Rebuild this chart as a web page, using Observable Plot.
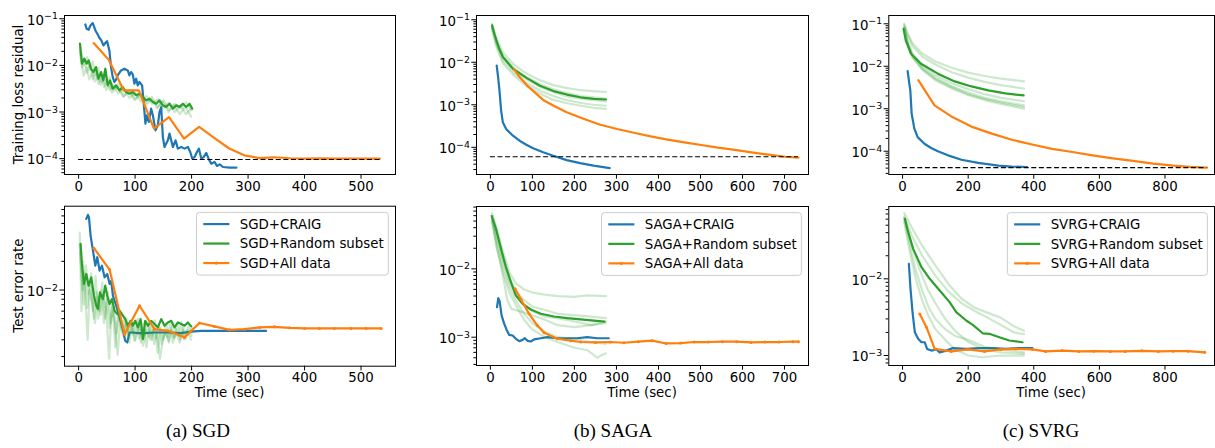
<!DOCTYPE html>
<html><head><meta charset="utf-8">
<script src="https://cdn.jsdelivr.net/npm/d3@7"></script>
<script src="https://cdn.jsdelivr.net/npm/@observablehq/plot@0.6"></script>
<style>
html,body{margin:0;padding:0;background:#fff;overflow:hidden;}
#root{position:relative;width:1215px;height:448px;overflow:hidden;background:#fff;}
</style></head><body><div id="root"></div>
<script>
// ---------------- DATA ----------------
// tick labels
const sgdXTicks = [0, 100, 200, 300, 400, 500];
const sagaXTicks = [0, 100, 200, 300, 400, 500, 600, 700];
const svrgXTicks = [0, 200, 400, 600, 800];
const trainYTicks = [1e-1, 1e-2, 1e-3, 1e-4];
const sgdTestYTicks = [1e-2];
const testYTicks = [1e-2, 1e-3];
const sgdLabels = ["SGD+CRAIG", "SGD+Random subset", "SGD+All data"];
const sagaLabels = ["SAGA+CRAIG", "SAGA+Random subset", "SAGA+All data"];
const svrgLabels = ["SVRG+CRAIG", "SVRG+Random subset", "SVRG+All data"];
const rowLabels = ["Training loss residual", "Test error rate"];
const xLabel = "Time (sec)";
const captions = ["(a) SGD", "(b) SAGA", "(c) SVRG"];

// ---- SGD, training loss residual ----
const sgdTrainCraig = [[11.8,0.0756],[14.2,0.0611],[17.8,0.0581],[20.1,0.0685],[22.5,0.0756],[24.9,0.0807],[27.2,0.0685],[29.6,0.0562],[33.1,0.0477],[36.7,0.0392],[40.2,0.0343],[43.8,0.0268],[47.3,0.0301],[50.3,0.0332],[54.4,0.021],[57.4,0.0092],[60.4,0.00562],[63.3,0.0044],[66.3,0.00493],[69.2,0.00611],[75.1,0.00781],[81.1,0.00848],[87,0.00781],[89.9,0.00611],[92.9,0.0072],[95.9,0.0064],[98.8,0.00405],[101.8,0.00518],[104.7,0.00373],[107.7,0.0044],[112.4,0.00373],[114.8,0.00178],[118.3,0.000562],[120.7,0.000849],[124.3,0.000611],[128.4,0.00118],[131.4,0.000849],[136.1,0.000405],[140.2,0.000518],[143.2,0.001],[146.2,0.00128],[149.1,0.000291],[152.1,0.000178],[158,0.000247],[160.9,0.000344],[163.9,0.000247],[166.9,0.000178],[171.6,0.000247],[175.7,0.000164],[181.7,0.000178],[187.6,0.000164],[193.5,0.000178],[197.6,0.000139],[201.2,0.0001],[205.3,0.000108],[209.5,0.000139],[213,0.000164],[217.2,0.0001],[221.3,0.000108],[226,0.000133],[230.8,0.0000953],[234.9,0.0000781],[240.8,0.0000848],[245,0.0000697],[249.7,0.0000755],[255.6,0.0000662],[267.5,0.000064],[279.3,0.000064]];
const sgdTrainRandom = [[2.4,0.0291],[5.9,0.0109],[10.1,0.0139],[14.2,0.0109],[17.8,0.0128],[21.9,0.00848],[26,0.0072],[30.8,0.0092],[34.9,0.00518],[39.6,0.0072],[43.8,0.00477],[47.3,0.00848],[51.5,0.00373],[55.6,0.00477],[60.4,0.00316],[66.3,0.00373],[72.2,0.00291],[78.1,0.00344],[84,0.00268],[89.9,0.00247],[95.9,0.00268],[101.8,0.00228],[107.7,0.00247],[113.6,0.0021],[119.5,0.00178],[125.4,0.00193],[131.4,0.00164],[137.3,0.00151],[143.2,0.00178],[149.1,0.00139],[155,0.00128],[160.9,0.00151],[166.9,0.00118],[172.8,0.00139],[178.7,0.00128],[184.6,0.00151],[190.5,0.00128],[196.4,0.00151],[201.2,0.00118]];
const sgdTrainRuns = [
  [[2,0.02],[6,0.009],[10,0.014],[15,0.007],[20,0.011],[25,0.005],[30,0.008],[35,0.004],[40,0.006],[45,0.0035],[50,0.005],[55,0.003],[60,0.004],[70,0.0025],[80,0.0032],[90,0.002],[100,0.0026],[110,0.0017],[120,0.0022],[130,0.0015],[140,0.0019],[150,0.0012],[160,0.0016],[170,0.001],[180,0.0014],[190,0.0009],[200,0.0012]],
  [[2,0.03],[6,0.016],[10,0.01],[15,0.015],[20,0.008],[25,0.012],[30,0.006],[35,0.009],[40,0.0045],[45,0.007],[50,0.004],[55,0.0055],[60,0.003],[70,0.004],[80,0.0022],[90,0.003],[100,0.0019],[110,0.0025],[120,0.0016],[130,0.0021],[140,0.0013],[150,0.0018],[160,0.0011],[170,0.0015],[180,0.0012],[190,0.0016],[200,0.0011]],
  [[2,0.025],[5,0.012],[9,0.006],[14,0.009],[19,0.005],[24,0.007],[29,0.0045],[34,0.0065],[39,0.0038],[44,0.005],[49,0.003],[54,0.0042],[59,0.0026],[69,0.0034],[79,0.0021],[89,0.0028],[99,0.0018],[109,0.0023],[119,0.0014],[129,0.0019],[139,0.0012],[149,0.0017],[159,0.001],[169,0.0014],[179,0.0009],[189,0.0013],[199,0.0008]]
];
const sgdTrainAll = [[26.6,0.0301],[53.3,0.0132],[80,0.0029],[106.6,0.0029],[133.3,0.00044],[160,0.00078],[186.6,0.00027],[213.3,0.00048],[240,0.00028],[266.6,0.000165],[293.3,0.000118],[320,0.000103],[346.6,0.000107],[373.3,0.000102],[400,0.0001],[426.6,0.000101],[453.3,0.0001],[480,0.0001],[506.6,0.0001],[533.3,0.0001]];
const sgdTrainOpt = {value: 9.6e-5, from: 0, to: 535};

// ---- SAGA, training loss residual ----
const sagaTrainCraig = [[15,0.0084],[18.4,0.00446],[21.6,0.0022],[25.6,0.00073],[29.6,0.00039],[37.6,0.00027],[53.6,0.000187],[69.6,0.000143],[85.6,0.000115],[101.6,0.0000948],[125.6,0.0000765],[149.6,0.000063],[181.6,0.00005],[213.6,0.0000425],[245.6,0.000037],[284,0.0000325]];
const sagaTrainRandom = [[4,0.0735],[10,0.045],[20,0.022],[30,0.0132],[54,0.007],[86,0.0043],[118,0.0028],[150,0.0021],[182,0.00174],[214,0.0015],[246,0.00138],[275,0.00133]];
const sagaTrainRuns = [
  [[4,0.08],[15,0.035],[30,0.017],[55,0.009],[85,0.0055],[120,0.0037],[150,0.0029],[180,0.0025],[215,0.0022],[245,0.0021],[275,0.002]],
  [[4,0.075],[15,0.03],[30,0.014],[55,0.0075],[85,0.0045],[120,0.003],[150,0.0023],[180,0.0019],[215,0.0016],[245,0.0015],[275,0.0014]],
  [[4,0.065],[15,0.025],[30,0.011],[55,0.0058],[85,0.0033],[120,0.0021],[150,0.0016],[180,0.0013],[215,0.0011],[245,0.001],[275,0.00095]],
  [[4,0.06],[15,0.022],[30,0.0095],[55,0.005],[85,0.0028],[120,0.0018],[150,0.0013],[180,0.0011],[215,0.00095],[245,0.00085],[275,0.0008]],
  [[4,0.07],[15,0.028],[30,0.013],[55,0.0068],[85,0.004],[120,0.0026],[150,0.002],[180,0.0016],[215,0.0014],[245,0.0013],[275,0.0012]]
];
const sagaTrainAll = [[56,0.007],[69.6,0.0045],[89.6,0.0027],[125.6,0.0013],[149.6,0.00096],[181.6,0.00067],[221.6,0.00047],[261.6,0.00034],[301.6,0.00027],[341.6,0.00022],[381.6,0.00018],[421.6,0.000152],[461.6,0.000131],[501.6,0.000113],[541.6,0.000098],[581.6,0.000087],[621.6,0.000076],[661.6,0.000067],[701.6,0.00006],[733,0.000057]];
const sagaTrainOpt = {value: 6.0e-5, from: 0, to: 733};

// ---- SVRG, training loss residual ----
const svrgTrainCraig = [[15.4,0.0077],[19.5,0.0045],[23.6,0.0027],[27.7,0.00076],[35.9,0.00034],[46,0.000215],[66.7,0.00015],[87,0.000119],[107.7,0.0001],[138.5,0.00008],[179.5,0.000063],[230.8,0.000053],[292,0.000046],[333,0.0000435],[379.5,0.0000425]];
const svrgTrainRandom = [[3,0.076],[10,0.04],[25.6,0.0197],[56,0.0115],[107.7,0.0067],[159,0.0044],[210,0.00335],[261.5,0.0027],[313,0.0023],[369,0.00206]];
const svrgTrainRuns = [
  [[5,0.1],[15,0.06],[30,0.035],[60,0.02],[100,0.013],[150,0.0092],[200,0.0071],[250,0.0059],[300,0.0051],[370,0.0044]],
  [[5,0.095],[15,0.055],[30,0.03],[60,0.017],[100,0.011],[150,0.0072],[200,0.0054],[250,0.0043],[300,0.0036],[370,0.003]],
  [[5,0.085],[15,0.04],[30,0.02],[60,0.0105],[100,0.0062],[150,0.004],[200,0.0029],[250,0.0022],[300,0.0018],[370,0.0015]],
  [[5,0.08],[15,0.036],[30,0.018],[60,0.0092],[100,0.0054],[150,0.0034],[200,0.0024],[250,0.0018],[300,0.0015],[370,0.0012]],
  [[5,0.075],[15,0.033],[30,0.016],[60,0.0082],[100,0.0047],[150,0.003],[200,0.0021],[250,0.0016],[300,0.0013],[370,0.001]],
  [[5,0.078],[15,0.035],[30,0.017],[60,0.0088],[100,0.005],[150,0.0032],[200,0.0022],[250,0.0017],[300,0.0014],[370,0.0011]]
];
const svrgTrainAll = [[48,0.0047],[97.4,0.0012],[148.7,0.00066],[210,0.00038],[272,0.00026],[333,0.000186],[395,0.000144],[456,0.000114],[518,0.000096],[579.5,0.00008],[641,0.000068],[702.6,0.000059],[764,0.000051],[825.6,0.0000457],[877,0.0000428],[928,0.0000410]];
const svrgTrainOpt = {value: 4.1e-5, from: 0, to: 928};

// ---- SGD, test error rate ----
const sgdTestCraig = [[13.6,0.0558],[16.5,0.0615],[18.3,0.0582],[21.2,0.0373],[25.4,0.0259],[29.5,0.018],[33,0.0221],[37.1,0.016],[41.3,0.018],[46,0.0136],[50.7,0.0147],[54.8,0.0116],[57.8,0.0125],[60.7,0.0087],[66.6,0.00684],[72.5,0.00515],[78.4,0.00388],[82.5,0.00293],[86.1,0.00281],[90.2,0.00358],[96.1,0.00358],[105,0.00352],[116.7,0.00352],[134.4,0.00358],[158,0.00358],[181.6,0.00352],[199.3,0.00365],[217,0.00373],[246.5,0.00373],[276,0.00373],[305.4,0.00373],[332,0.00373]];
const sgdTestRandom = [[3.5,0.0305],[5.9,0.0188],[9.4,0.0116],[13.6,0.0147],[17.7,0.0111],[22.4,0.0136],[27.1,0.0087],[31.3,0.00684],[34.2,0.00631],[37.7,0.00944],[43,0.00804],[47.2,0.0111],[50.7,0.0087],[54.8,0.00713],[59,0.00804],[63.7,0.00606],[68.4,0.00559],[72.5,0.00606],[78.4,0.00537],[82.5,0.00495],[87.3,0.00421],[92,0.00475],[96.1,0.00421],[100.2,0.00475],[105,0.00405],[109.7,0.00495],[113.8,0.00305],[117.9,0.00475],[122.6,0.00421],[128.5,0.00475],[134.4,0.00439],[140.3,0.00405],[146.2,0.00495],[152.1,0.00421],[158,0.00457],[163.9,0.00475],[169.8,0.00405],[175.7,0.00457],[181.6,0.00439],[187.5,0.00421],[193.4,0.00457],[199.3,0.00415]];
const sgdTestRuns = [
  [[2,0.04],[5,0.006],[8,0.02],[12,0.008],[16,0.003],[20,0.012],[25,0.006],[30,0.014],[35,0.005],[40,0.01],[45,0.0045],[50,0.008],[55,0.004],[60,0.007],[65,0.0025],[70,0.006],[75,0.004],[80,0.0032],[85,0.005],[90,0.0028],[95,0.0045],[100,0.003],[105,0.005],[110,0.0028],[115,0.0045],[120,0.0025],[125,0.0042],[130,0.003],[135,0.0048],[140,0.0022],[145,0.004],[150,0.003],[155,0.0045],[160,0.0028],[165,0.0042],[170,0.0032],[175,0.0045],[180,0.003],[185,0.004],[190,0.0035],[195,0.0042],[200,0.0033]],
  [[2,0.03],[5,0.015],[9,0.007],[13,0.018],[17,0.009],[22,0.015],[27,0.005],[32,0.0095],[37,0.006],[42,0.012],[47,0.005],[52,0.0095],[57,0.0045],[62,0.0065],[67,0.0035],[72,0.006],[77,0.0038],[82,0.0052],[87,0.0033],[92,0.0046],[97,0.0034],[102,0.0048],[107,0.0031],[112,0.004],[117,0.0033],[122,0.0046],[127,0.003],[132,0.0038],[137,0.0031],[142,0.0043],[147,0.0027],[152,0.0037],[157,0.0032],[162,0.0044],[167,0.0028],[172,0.0039],[177,0.0033],[182,0.0046],[187,0.003],[192,0.0038],[197,0.0036],[201,0.004]],
  [[3,0.025],[7,0.01],[11,0.015],[15,0.0065],[19,0.01],[24,0.0075],[29,0.0045],[34,0.0085],[39,0.0055],[44,0.009],[49,0.006],[54,0.0019],[59,0.0075],[64,0.0045],[69,0.0021],[74,0.005],[79,0.0035],[84,0.0046],[89,0.0032],[94,0.0043],[99,0.0029],[104,0.0036],[109,0.0042],[114,0.0026],[119,0.0038],[124,0.0032],[129,0.0043],[134,0.0027],[139,0.0036],[144,0.0019],[149,0.003],[154,0.0036],[159,0.0029],[164,0.0038],[169,0.0031],[174,0.0035],[179,0.0028],[184,0.0037],[189,0.0031],[194,0.0036],[199,0.003]]
];
const sgdTestAll = [[27.1,0.0275],[54.8,0.0164],[81.4,0.00344],[107.9,0.00684],[134.4,0.00388],[158,0.00373],[187.5,0.00318],[214,0.0045],[240.5,0.00415],[267,0.00382],[293.6,0.00388],[320.2,0.00405],[346.7,0.00411],[373.2,0.00401],[399.8,0.00395],[426.3,0.00395],[452.8,0.00395],[482.3,0.00395],[508.8,0.00395],[535.4,0.00395]];

// ---- SAGA, test error rate ----
const sagaTestCraig = [[15.8,0.00275],[18.9,0.00372],[22.1,0.00333],[26.8,0.00207],[33.1,0.00157],[39.5,0.00125],[45,0.00108],[52.9,0.00106],[60.8,0.000946],[68.7,0.000874],[76.6,0.000914],[82.1,0.000966],[88.4,0.000885],[96.3,0.000865],[104.2,0.000928],[120,0.000966],[135.8,0.001],[159.4,0.000966],[183.1,0.000966],[206.8,0.000966],[230.5,0.001],[254.1,0.000966],[281.8,0.000966]];
const sagaTestRandom = [[3.2,0.059],[13.4,0.0383],[25.3,0.0196],[37.1,0.0106],[48.9,0.00638],[60.8,0.00407],[76.6,0.00307],[96.3,0.00254],[120,0.0022],[151.5,0.00201],[183.1,0.0019],[214.7,0.00182],[246.2,0.00175],[271.5,0.00169]];
const sagaTestRuns = [
  [[4,0.065],[15,0.04],[30,0.018],[45,0.009],[60,0.0062],[80,0.005],[100,0.0045],[130,0.0042],[160,0.004],[200,0.0039],[230,0.0041],[275,0.004]],
  [[4,0.06],[15,0.035],[30,0.015],[45,0.0075],[60,0.0048],[80,0.0035],[100,0.0028],[130,0.0025],[160,0.0022],[200,0.0021],[240,0.002],[275,0.0019]],
  [[4,0.055],[15,0.03],[30,0.013],[45,0.0065],[60,0.0042],[80,0.003],[100,0.0024],[130,0.002],[160,0.0019],[200,0.0017],[240,0.0015],[275,0.0016]],
  [[4,0.05],[15,0.022],[30,0.008],[40,0.0035],[50,0.0026],[70,0.0024],[100,0.0021],[130,0.0018],[160,0.0015],[200,0.0014],[240,0.0015],[275,0.0017]],
  [[4,0.055],[15,0.025],[30,0.011],[45,0.0055],[60,0.0035],[80,0.0022],[100,0.0016],[130,0.0012],[160,0.001],[200,0.00095],[240,0.00085],[275,0.0008]],
  [[4,0.05],[15,0.02],[30,0.009],[45,0.0045],[60,0.003],[80,0.0018],[100,0.0013],[130,0.001],[160,0.00085],[200,0.0007],[230,0.00065],[255,0.0005],[265,0.00055],[275,0.00058]]
];
const sagaTestAll = [[59,0.0051],[72.6,0.0036],[92,0.0022],[112,0.00148],[128,0.00116],[159,0.00095],[191,0.00089],[215,0.00085],[250,0.00084],[285,0.00085],[318,0.00083],[352,0.00086],[385,0.00089],[418,0.00081],[452,0.00082],[485,0.00085],[519,0.00085],[552,0.00086],[586,0.00086],[620,0.00084],[653,0.00085],[687,0.00085],[720,0.00086],[733,0.00086]];

// ---- SVRG, test error rate ----
const svrgTestCraig = [[19.2,0.0157],[24.2,0.00741],[30.3,0.00367],[37.4,0.00201],[47.5,0.00165],[57.6,0.00149],[67.7,0.00149],[74.7,0.00122],[87.9,0.00116],[103,0.0012],[113.1,0.0011],[133.3,0.00116],[153.5,0.00125],[193.9,0.00122],[234.3,0.00125],[274.7,0.00125],[315.2,0.00122],[355.6,0.00125],[396,0.00125]];
const svrgTestRandom = [[7.1,0.0607],[17.2,0.0406],[32.3,0.0246],[57.6,0.0142],[82.8,0.01],[113.1,0.00705],[143.4,0.00497],[163.6,0.00367],[194,0.00286],[214.1,0.00251],[244.4,0.00195],[264.6,0.00192],[295,0.00173],[325.3,0.00157],[365.7,0.00149]];
const svrgTestRuns = [
  [[5,0.072],[30,0.045],[60,0.027],[100,0.015],[140,0.0085],[180,0.0055],[220,0.0042],[260,0.0036],[300,0.0031],[340,0.0024],[370,0.0021]],
  [[5,0.065],[30,0.035],[60,0.02],[100,0.011],[140,0.0068],[180,0.0048],[220,0.0038],[260,0.0031],[300,0.0025],[340,0.002],[370,0.0019]],
  [[5,0.06],[20,0.03],[40,0.013],[60,0.007],[80,0.0042],[100,0.003],[130,0.0022],[160,0.0018],[200,0.0016],[250,0.0013],[300,0.0012],[370,0.0011]],
  [[5,0.055],[20,0.025],[40,0.01],[60,0.0052],[80,0.0032],[100,0.0022],[130,0.0016],[160,0.0012],[200,0.001],[240,0.00095],[300,0.001],[370,0.001]],
  [[5,0.062],[25,0.03],[50,0.014],[75,0.0075],[100,0.0048],[130,0.003],[160,0.0021],[200,0.0015],[250,0.0012],[300,0.0011],[370,0.00105]]
];
const svrgTestAll = [[52.5,0.00349],[72.7,0.00234],[98,0.00122],[148.5,0.00113],[199,0.0012],[249.5,0.00113],[300,0.0012],[345.5,0.00122],[396,0.0012],[436.4,0.00113],[486.9,0.00116],[537.4,0.00113],[582.8,0.00114],[633.3,0.00113],[678.8,0.00113],[729.3,0.00115],[779.8,0.00113],[825.3,0.00114],[870.7,0.00114],[921.2,0.0011]];

// ---------------- DRAWING ----------------
const FS = 13.33;
const COL = {craig: "#1f77b4", random: "#2ca02c", all: "#ff7f0e"};
const root = document.getElementById("root");
const xy = {x: d => d[0], y: d => d[1]};

function makePanel(p) {
  const [fl, ft, fr, fb] = p.frame;
  const yMinor = [];
  for (let e = -6; e <= 0; e++) for (let k = 2; k <= 9; k++) {
    const v = k * Math.pow(10, e);
    if (v > p.yDomain[0] && v < p.yDomain[1]) yMinor.push(v);
  }
  const marks = [];
  marks.push(Plot.line(p.craig, {...xy, stroke: COL.craig, strokeWidth: 2.2}));
  for (const run of p.runs) marks.push(Plot.line(run, {...xy, stroke: COL.random, strokeOpacity: 0.24, strokeWidth: 2.2}));
  marks.push(Plot.line(p.random, {...xy, stroke: COL.random, strokeWidth: 2.2}));
  marks.push(Plot.line(p.all, {...xy, stroke: COL.all, strokeWidth: 2.2}));
  if (p.dots) marks.push(Plot.dot(p.all, {...xy, r: 1.5, fill: COL.all}));
  if (p.opt) marks.push(Plot.ruleY([p.opt.value], {x1: p.opt.from, x2: p.opt.to, stroke: "black", strokeWidth: 1.1, strokeDasharray: "5,2.6"}));
  marks.push(Plot.frame({stroke: "black", strokeWidth: 1}));
  marks.push(Plot.axisX({ticks: p.xTicks, tickSize: 4.67, tickPadding: 2, tickFormat: d => String(d), label: null}));
  marks.push(Plot.axisY({ticks: yMinor, tickSize: 2.67, tickFormat: () => "", label: null}));
  marks.push(Plot.axisY({ticks: p.yTicks, tickSize: 4.67, tickPadding: 2, tickFormat: d => "10^" + Math.round(Math.log10(d)), label: null}));

  const svg = Plot.plot({
    width: p.width, height: p.height,
    marginLeft: fl - p.left, marginTop: ft - p.top,
    marginRight: p.left + p.width - fr, marginBottom: p.top + p.height - fb,
    x: {domain: p.xDomain},
    y: {type: "log", domain: p.yDomain},
    style: {fontFamily: "DejaVu Sans", fontSize: FS + "px", color: "black", background: "transparent", overflow: "visible"},
    marks
  });
  svg.style.position = "absolute";
  svg.style.left = p.left + "px";
  svg.style.top = p.top + "px";
  root.appendChild(svg);
  const S = d3.select(svg);
  // mathtext-like superscripts on log tick labels
  S.selectAll("text").each(function () {
    const s = this.textContent;
    if (!s || s.indexOf("^") < 0) return;
    const [b, e] = s.split("^");
    this.textContent = "";
    d3.select(this).append("tspan").attr("dy", 1.5).text(b);
    d3.select(this).append("tspan").attr("dy", -5.2).attr("font-size", (FS * 0.7).toFixed(2)).text(e.replace("-", "\u2212"));
  });
  if (p.ylabel) {
    S.append("text").attr("transform", `translate(18.5,${(ft + fb) / 2 - p.top}) rotate(-90)`)
      .attr("text-anchor", "middle").attr("dy", "0.36em")
      .attr("font-family", "DejaVu Sans").attr("font-size", FS).attr("fill", "black").text(p.ylabel);
  }
  if (p.xlabel) {
    S.append("text").attr("x", (fl + fr) / 2 - p.left).attr("y", 397 - p.top)
      .attr("text-anchor", "middle").attr("font-family", "DejaVu Sans").attr("font-size", FS).attr("fill", "black").text(p.xlabel);
  }
  if (p.legend) drawLegend(S, p.legend, fr - 6.67 - p.left, ft + 6.67 - p.top);
  return svg;
}

function drawLegend(S, labels, right, top) {
  const g = S.append("g").attr("text-anchor", "start");
  const colors = [COL.craig, COL.random, COL.all];
  const rowY = i => top + 11.7 + i * 19.5;
  const rect = g.append("rect");
  const texts = labels.map((l, i) => g.append("text").attr("y", rowY(i)).attr("dy", "0.36em")
    .attr("text-anchor", "start")
    .attr("font-family", "DejaVu Sans").attr("font-size", FS).attr("fill", "black").text(l));
  const tw = d3.max(texts, t => t.node().getComputedTextLength());
  const w = 5.7 + 28.3 + 9.3 + tw + 4.7;
  const x0 = right - w;
  rect.attr("x", x0).attr("y", top).attr("width", w).attr("height", 62.7).attr("rx", 3)
    .attr("fill", "white").attr("fill-opacity", 0.8).attr("stroke", "#cccccc").attr("stroke-width", 1);
  texts.forEach((t, i) => {
    t.attr("x", x0 + 5.7 + 28.3 + 9.3);
    g.append("line").attr("x1", x0 + 6.8).attr("x2", x0 + 32.9).attr("y1", rowY(i)).attr("y2", rowY(i))
      .attr("stroke", colors[i]).attr("stroke-width", 2.2);
  });
  g.append("circle").attr("cx", x0 + 19.85).attr("cy", rowY(2)).attr("r", 1.6).attr("fill", COL.all);
}

// Top row
makePanel({left: 0, top: 0, width: 400, height: 200, frame: [64, 15, 395, 174], xDomain: [-25, 561], xTicks: sgdXTicks,
  yDomain: [Math.pow(10, -4.34), Math.pow(10, -0.93)], yTicks: trainYTicks,
  craig: sgdTrainCraig, random: sgdTrainRandom, runs: sgdTrainRuns, all: sgdTrainAll, opt: sgdTrainOpt, ylabel: rowLabels[0]});
makePanel({left: 405, top: 0, width: 410, height: 200, frame: [476, 15, 808, 174], xDomain: [-33, 757], xTicks: sagaXTicks,
  yDomain: [Math.pow(10, -4.64), Math.pow(10, -0.9)], yTicks: trainYTicks,
  craig: sagaTrainCraig, random: sagaTrainRandom, runs: sagaTrainRuns, all: sagaTrainAll, opt: sagaTrainOpt});
makePanel({left: 815, top: 0, width: 400, height: 200, frame: [888.3, 15, 1214, 174], xDomain: [-42, 951], xTicks: svrgXTicks,
  yDomain: [Math.pow(10, -4.548), Math.pow(10, -0.805)], yTicks: trainYTicks,
  craig: svrgTrainCraig, random: svrgTrainRandom, runs: svrgTrainRuns, all: svrgTrainAll, opt: svrgTrainOpt});

// Bottom row
makePanel({left: 0, top: 200, width: 400, height: 200, frame: [64, 205.7, 395, 365.7], xDomain: [-25, 561], xTicks: sgdXTicks,
  yDomain: [Math.pow(10, -2.80), Math.pow(10, -1.12)], yTicks: sgdTestYTicks,
  craig: sgdTestCraig, random: sgdTestRandom, runs: sgdTestRuns, all: sgdTestAll, dots: true,
  ylabel: rowLabels[1], xlabel: xLabel, legend: sgdLabels});
makePanel({left: 405, top: 200, width: 410, height: 200, frame: [476, 206, 808, 365], xDomain: [-33, 757], xTicks: sagaXTicks,
  yDomain: [Math.pow(10, -3.414), Math.pow(10, -1.088)], yTicks: testYTicks,
  craig: sagaTestCraig, random: sagaTestRandom, runs: sagaTestRuns, all: sagaTestAll, dots: true,
  xlabel: xLabel, legend: sagaLabels});
makePanel({left: 815, top: 200, width: 400, height: 200, frame: [888.3, 206, 1214, 365], xDomain: [-42, 951], xTicks: svrgXTicks,
  yDomain: [Math.pow(10, -3.13), Math.pow(10, -1.057)], yTicks: testYTicks,
  craig: svrgTestCraig, random: svrgTestRandom, runs: svrgTestRuns, all: svrgTestAll, dots: true,
  xlabel: xLabel, legend: svrgLabels});

// Captions
const cap = d3.select(root).append("svg").attr("width", 1215).attr("height", 48)
  .style("position", "absolute").style("left", "0px").style("top", "400px");
const capX = [198, 613, 1041];
captions.forEach((c, i) => cap.append("text").attr("x", capX[i]).attr("y", 37).attr("text-anchor", "middle")
  .attr("font-family", "Liberation Serif, Times New Roman, serif").attr("font-size", 19).attr("fill", "black").text(c));
</script></body></html>
